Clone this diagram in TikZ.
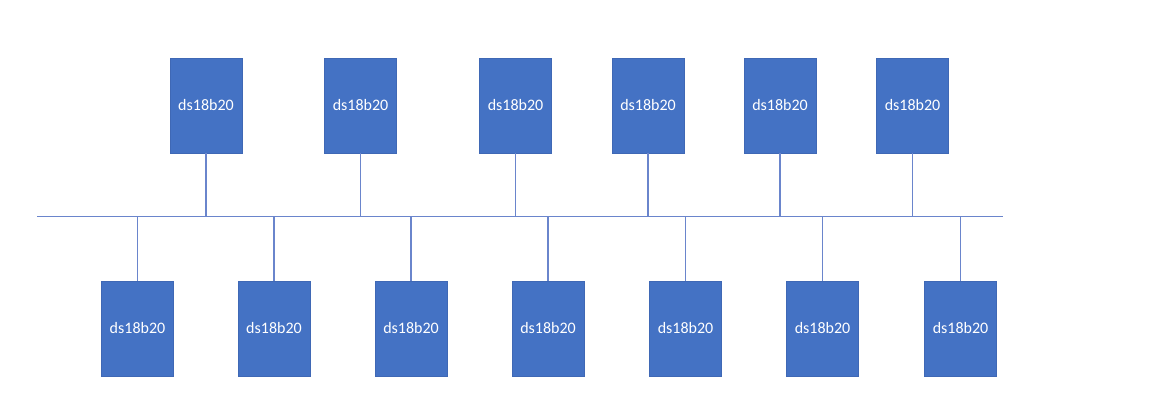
\documentclass[tikz,border=0pt]{standalone}
\usepackage{fontspec}
\setmainfont{Carlito}
\definecolor{sensorblue}{HTML}{4472C4}
\definecolor{sensoredge}{HTML}{3F68B5}
\definecolor{wireblue}{HTML}{6A85CC}
\tikzset{
	sensor/.style={rectangle, fill=sensorblue, draw=sensoredge, line width=0.8pt,
		minimum width=72pt, minimum height=95pt, inner sep=0pt,
		text=white, font=\fontsize{16}{19}\selectfont},
	wire/.style={wireblue, line width=1.5pt}
}
\begin{document}
\begin{tikzpicture}[x=1pt, y=-1pt]
\useasboundingbox (0, 0) rectangle (1151, 403);

% bus
\coordinate (busL) at (37, 216.5);
\coordinate (busR) at (1003, 216.5);
\draw[wire] (busL) -- (busR);

% upper row
\foreach \x [count=\i] in {206, 360.5, 515.5, 648, 780, 912.5}
{
	\node[sensor] (t\i) at (\x, 105.5) {ds18b20};
	\draw[wire] (t\i.south) -- (t\i.south |- busL);
}

% lower row
\foreach \x [count=\i] in {137.5, 274, 411, 548, 685.5, 822.5, 960.5}
{
	\node[sensor] (b\i) at (\x, 328.5) {ds18b20};
	\draw[wire] (b\i.north) -- (b\i.north |- busL);
}

\end{tikzpicture}
\end{document}
